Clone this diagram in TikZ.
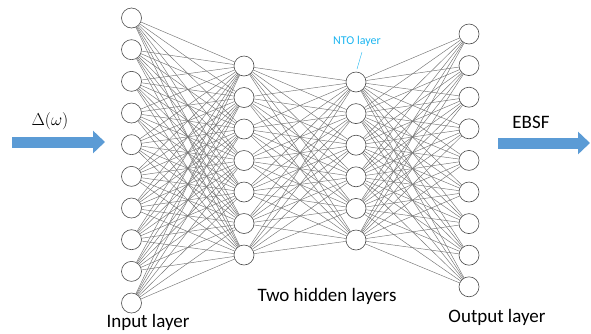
\documentclass[tikz,border=0pt]{standalone}
\usepackage{fontspec}
\setmainfont{Carlito}
\usepackage{xcolor}
\usepackage{tikz}
\usetikzlibrary{arrows.meta,positioning}

\definecolor{flowblue}{HTML}{5B9BD5}
\definecolor{ntoblue}{HTML}{1CB5F0}

\begin{document}
\begin{tikzpicture}[
  x=1pt, y=-1pt,
  neuron/.style={draw=black!70, fill=white, circle, inner sep=0pt,
                 minimum size=20pt, line width=0.6pt},
  link/.style={draw=black!55, line width=0.45pt},
  flow/.style={draw=flowblue, line width=11pt,
               -{Triangle[length=12pt, width=22pt]}},
  lbl/.style={font=\fontsize{19}{21}\selectfont, inner sep=0pt}
]
\useasboundingbox (0,0) rectangle (591,333);

% layers of neurons
\foreach \i in {1,...,10}
  \node[neuron] (in\i) at (131.5, {18+31.67*(\i-1)}) {};
\foreach \i in {1,...,7}
  \node[neuron] (ha\i) at (244, {66+31.5*(\i-1)}) {};
\foreach \i in {1,...,6}
  \node[neuron] (hb\i) at (356, {82+31.6*(\i-1)}) {};
\foreach \i in {1,...,9}
  \node[neuron] (out\i) at (469, {34+31.6*(\i-1)}) {};

% full connections between neighbouring layers
\foreach \i in {1,...,10}
  \foreach \j in {1,...,7}
    \draw[link] (in\i) -- (ha\j);
\foreach \i in {1,...,7}
  \foreach \j in {1,...,6}
    \draw[link] (ha\i) -- (hb\j);
\foreach \i in {1,...,6}
  \foreach \j in {1,...,9}
    \draw[link] (hb\i) -- (out\j);

% labels
\node[lbl] (inlabel) at (148, 322) {Input layer};
\node[lbl] (hidlabel) at (327, 296) {Two hidden layers};
\node[lbl] (outlabel) at (497, 317) {Output layer};
\node[inner sep=0pt, text=ntoblue, font=\fontsize{12}{14}\selectfont]
  (ntolabel) at (357, 41) {NTO layer};
\coordinate (ntofoot) at (357, 69);
\draw[ntoblue, line width=0.4pt] (362, 52) -- (ntofoot);

% input and output arrows
\coordinate (intail) at (12, 142);
\coordinate (inhead) at (105, 142);
\draw[flow] (intail) -- (inhead);
\node[lbl] (inname) at (50, 121) {$\Delta(\omega)$};
\coordinate (outtail) at (498, 143);
\coordinate (outhead) at (590, 143);
\draw[flow] (outtail) -- (outhead);
\node[lbl] (outname) at (531, 122) {EBSF};
\end{tikzpicture}
\end{document}
